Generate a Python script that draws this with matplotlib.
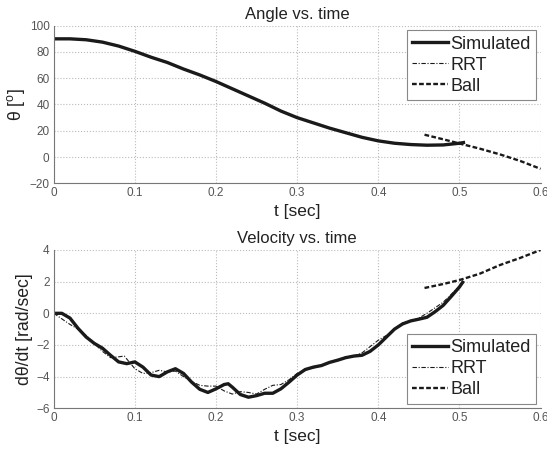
import matplotlib
matplotlib.use("Agg")
import matplotlib.pyplot as plt

plt.rcParams["font.family"] = ["Liberation Sans", "DejaVu Sans"]
plt.rcParams["mathtext.fontset"] = "custom"
plt.rcParams["mathtext.rm"] = "Liberation Sans"

# Angle panel
t_angle = [0, 0.02, 0.04, 0.06, 0.08, 0.10, 0.12, 0.14, 0.16, 0.18, 0.20, 0.22,
           0.24, 0.26, 0.28, 0.30, 0.32, 0.34, 0.36, 0.38, 0.40, 0.42, 0.44,
           0.46, 0.48, 0.50, 0.505]
angle_sim = [90, 90, 89.3, 87.5, 84.5, 80.5, 76, 72, 67, 62.5, 57.5, 52,
             46.5, 41, 35, 30, 26, 22, 18.5, 15, 12.3, 10.5, 9.5,
             9, 9.2, 10.5, 11]
angle_rrt = [90, 90, 89.3, 87.5, 84.5, 80.5, 76, 72, 67, 62.5, 57.5, 52,
             46.5, 41, 35, 30, 26, 22, 18.5, 15, 12.3, 10.5, 9.5,
             9, 9.2, 10.5, 11]
t_ball = [0.457, 0.48, 0.50, 0.525, 0.55, 0.575, 0.60]
angle_ball = [17, 13.5, 10.3, 6.4, 2, -3, -9]

# Velocity panel
t_vel = [0, 0.01, 0.02, 0.03, 0.04, 0.05, 0.06, 0.07, 0.08, 0.09, 0.10, 0.11,
         0.12, 0.13, 0.14, 0.15, 0.16, 0.17, 0.18, 0.19, 0.20, 0.21, 0.215,
         0.22, 0.23, 0.24, 0.25, 0.26, 0.27, 0.28, 0.29, 0.30, 0.31, 0.32,
         0.33, 0.34, 0.35, 0.36, 0.37, 0.38, 0.39, 0.40, 0.41, 0.42, 0.43,
         0.44, 0.45, 0.46, 0.47, 0.48, 0.49, 0.50, 0.504]
vel_sim = [0.0, 0.0, -0.3, -0.95, -1.5, -1.9, -2.2, -2.65, -3.07, -3.18, -3.07,
           -3.4, -3.9, -4.0, -3.7, -3.5, -3.8, -4.35, -4.8, -5.0, -4.77, -4.5,
           -4.45, -4.66, -5.13, -5.3, -5.2, -5.05, -5.05, -4.77, -4.35, -3.9,
           -3.55, -3.4, -3.3, -3.1, -2.96, -2.8, -2.7, -2.65, -2.4, -2.0, -1.5,
           -1.0, -0.67, -0.48, -0.37, -0.25, 0.1, 0.5, 1.07, 1.66, 1.96]
t_rrt = [0, 0.01, 0.02, 0.03, 0.04, 0.05, 0.06, 0.07, 0.08, 0.087, 0.10, 0.11,
         0.12, 0.13, 0.14, 0.15, 0.16, 0.17, 0.18, 0.19, 0.20, 0.21, 0.22,
         0.23, 0.24, 0.25, 0.26, 0.27, 0.28, 0.29, 0.30, 0.31, 0.32, 0.33,
         0.34, 0.35, 0.36, 0.37, 0.38, 0.39, 0.40, 0.41, 0.42, 0.43, 0.44,
         0.45, 0.46, 0.47, 0.48, 0.49, 0.50, 0.505]
vel_rrt = [0.0, -0.35, -0.7, -1.0, -1.4, -1.9, -2.4, -2.8, -2.75, -2.7, -3.5,
           -3.8, -3.75, -3.6, -3.7, -3.65, -4.0, -4.3, -4.55, -4.6, -4.6, -4.9,
           -5.1, -4.95, -5.0, -5.1, -4.8, -4.55, -4.5, -4.2, -3.8, -3.6, -3.45,
           -3.3, -3.1, -2.95, -2.75, -2.7, -2.5, -2.1, -1.7, -1.4, -1.0, -0.6,
           -0.5, -0.3, 0.0, 0.35, 0.7, 1.2, 1.7, 1.95]
vel_ball = [1.6, 1.85, 2.1, 2.5, 3.05, 3.5, 4.0]

x_ticks = [0, 0.1, 0.2, 0.3, 0.4, 0.5, 0.6]
angle_ticks = [-20, 0, 20, 40, 60, 80, 100]
vel_ticks = [-6, -4, -2, 0, 2, 4]

line_col = "#1a1a1a"
text_col = "#222222"
tick_col = "#555555"


def style_axes(ax, yticks, title, ylabel):
    ax.set_xlim(0, 0.6)
    ax.set_ylim(yticks[0], yticks[-1])
    ax.set_xticks(x_ticks)
    ax.set_xticklabels([f"{v:g}" for v in x_ticks])
    ax.set_yticks(yticks)
    ax.tick_params(labelsize=8.5, colors=tick_col, length=0, pad=3)
    for side in ["top", "right"]:
        ax.spines[side].set_visible(False)
    for side in ["left", "bottom"]:
        ax.spines[side].set_color("#777777")
        ax.spines[side].set_linewidth(0.8)
    ax.grid(True, linestyle=":", color="#bbbbbb", linewidth=0.8)
    ax.set_title(title, fontsize=12, color=text_col, pad=5)
    ax.set_xlabel("t [sec]", fontsize=12.5, color=text_col, labelpad=3)
    ax.set_ylabel(ylabel, fontsize=12.7, color=text_col, labelpad=2)


def add_legend(ax, loc):
    leg = ax.legend(loc=loc, fontsize=13, frameon=True, fancybox=False,
                    edgecolor="#888888", framealpha=1, handlelength=2.0,
                    handletextpad=0.1, labelspacing=0.22, borderpad=0.3,
                    borderaxespad=0.25)
    leg.get_frame().set_linewidth(0.8)
    for txt in leg.get_texts():
        txt.set_color(text_col)


fig = plt.figure(figsize=(5.47, 4.51), dpi=100)
ax1 = fig.add_axes([0.0982, 0.5936, 0.890, 0.3494])
ax2 = fig.add_axes([0.0982, 0.0947, 0.890, 0.351])

ax1.plot(t_angle, angle_sim, color=line_col, lw=2.4, label="Simulated")
ax1.plot(t_angle, angle_rrt, color=line_col, lw=0.8, ls=(0, (4, 1.5, 1, 1.5)),
         label="RRT")
ax1.plot(t_ball, angle_ball, color=line_col, lw=1.7, ls=(0, (2, 1)),
         label="Ball")
style_axes(ax1, angle_ticks, "Angle vs. time", r"θ [$^{\mathrm{o}}$]")
add_legend(ax1, "upper right")

ax2.plot(t_vel, vel_sim, color=line_col, lw=2.4, label="Simulated")
ax2.plot(t_rrt, vel_rrt, color=line_col, lw=0.8, ls=(0, (4, 1.5, 1, 1.5)),
         label="RRT")
ax2.plot(t_ball, vel_ball, color=line_col, lw=1.7, ls=(0, (2, 1)),
         label="Ball")
style_axes(ax2, vel_ticks, "Velocity vs. time", "dθ/dt [rad/sec]")
add_legend(ax2, "lower right")

fig.savefig("out.png", dpi=100)
